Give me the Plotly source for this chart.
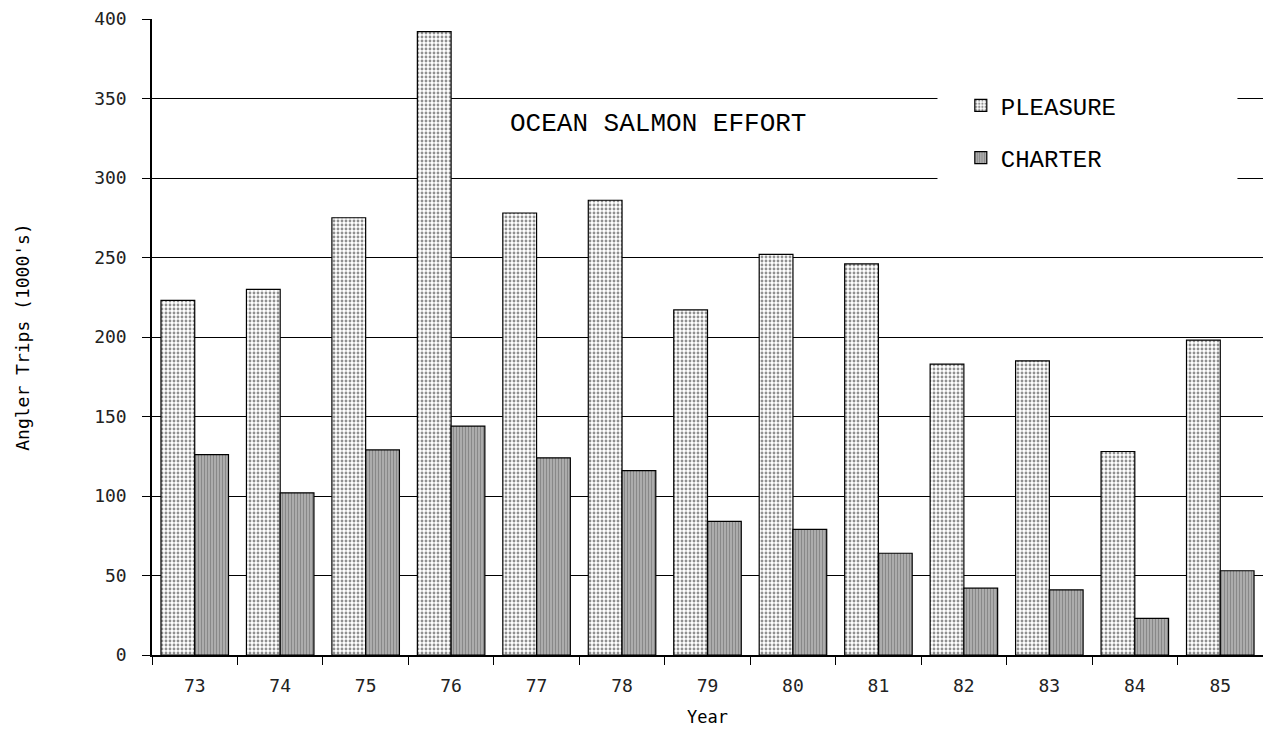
import plotly.graph_objects as go

years = ["73", "74", "75", "76", "77", "78", "79", "80", "81", "82", "83", "84", "85"]
pleasure = [223, 230, 275, 392, 278, 286, 217, 252, 246, 183, 185, 128, 198]
charter = [126, 102, 129, 144, 124, 116, 84, 79, 64, 42, 41, 23, 53]
y_ticks = [0, 50, 100, 150, 200, 250, 300, 350, 400]

mono = "DejaVu Sans Mono"
slab = "Liberation Mono"

fig = go.Figure()
fig.add_trace(go.Bar(
    x=years, y=pleasure, name="PLEASURE", legendgroup="p",
    marker=dict(color="white", line=dict(color="black", width=1.2),
                pattern=dict(shape=".", size=4, solidity=0.4, fgcolor="#222", bgcolor="white")),
))
fig.add_trace(go.Bar(
    x=years, y=charter, name="CHARTER", legendgroup="c",
    marker=dict(color="white", line=dict(color="black", width=1.2),
                pattern=dict(shape="|", size=3, solidity=0.8, fgcolor="#111", bgcolor="white")),
))

fig.update_layout(
    width=1255, height=720,
    paper_bgcolor="white", plot_bgcolor="white",
    margin=dict(l=144, r=0, t=11, b=73),
    barmode="group", bargap=0.21, bargroupgap=0,
    showlegend=True,
    legend=dict(x=0.728, y=0.899, xanchor="left", yanchor="top",
                bgcolor="rgba(0,0,0,0)", borderwidth=0,
                font=dict(family=slab, size=24, color="black"),
                tracegroupgap=18, traceorder="grouped",
                itemwidth=30),
    shapes=[dict(type="rect", xref="paper", yref="paper",
                 x0=0.707, x1=0.977, y0=0.744, y1=0.891,
                 fillcolor="white", line=dict(width=0), layer="above")],
    annotations=[dict(text="OCEAN SALMON EFFORT", xref="paper", yref="paper",
                      x=0.455, y=0.835, xanchor="center", yanchor="middle",
                      showarrow=False,
                      font=dict(family=slab, size=26, color="black"))],
)
fig.update_xaxes(
    type="category", showline=True, linecolor="black", linewidth=1.5,
    ticks="outside", tickson="boundaries", ticklen=8, tickcolor="black",
    ticklabelstandoff=14,
    tickfont=dict(family=mono, size=18, color="#222"),
    showgrid=False, automargin=False,
    title=dict(text="Year", font=dict(family=mono, size=17, color="black"), standoff=16),
)
fig.update_yaxes(
    range=[0, 400], tickvals=y_ticks, ticktext=[str(v) for v in y_ticks],
    showline=True, linecolor="black", linewidth=1.5,
    ticks="outside", ticklen=8, tickcolor="black",
    ticklabelstandoff=12, ticklabeloverflow="allow",
    tickfont=dict(family=mono, size=18, color="#222"),
    showgrid=True, gridcolor="black", gridwidth=1.3,
    zeroline=False, automargin=False,
    title=dict(text="Angler Trips (1000's)", font=dict(family=mono, size=18, color="black"), standoff=60),
)

fig.write_html("out.html")
